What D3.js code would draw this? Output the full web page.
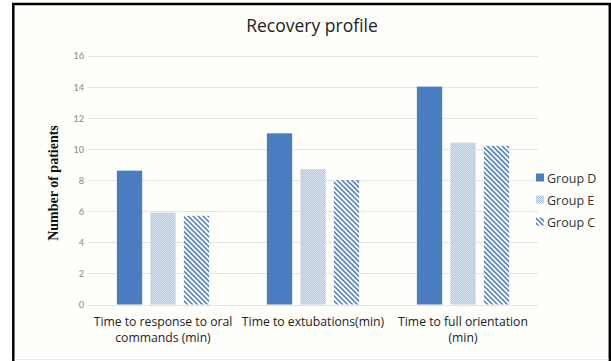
<!DOCTYPE html>
<html>
<head>
<meta charset="utf-8">
<script src="https://cdn.jsdelivr.net/npm/d3@7"></script>
<style>
  body { margin: 0; background: #fff; }
  svg { display: block; }
</style>
</head>
<body>
<div id="chart"></div>
<script>
// chart data
var categories = [["Time to response to oral", "commands (min)"], ["Time to extubations(min)"], ["Time to full orientation", "(min)"]];
var groups = ["Group D", "Group E", "Group C"];
var groupD = [8.6, 11.0, 14.0];
var groupE = [5.9, 8.7, 10.4];
var groupC = [5.7, 8.0, 10.2];
var yTicks = [0, 2, 4, 6, 8, 10, 12, 14, 16];

var seriesValues = [groupD, groupE, groupC];

var width = 611, height = 361;
var margin = { top: 55.5, left: 88, right: 73, bottom: 56.5 };

var svg = d3.select("#chart").append("svg")
    .attr("width", width)
    .attr("height", height);

// patterns for group E (fine check) and group C (diagonal stripes)
var defs = svg.append("defs");
var pE = defs.append("pattern")
    .attr("id", "patE")
    .attr("patternUnits", "userSpaceOnUse")
    .attr("width", 2).attr("height", 2);
pE.append("rect").attr("width", 2).attr("height", 2).attr("fill", "#dfe8f4");
pE.append("rect").attr("width", 1).attr("height", 1).attr("fill", "#a6bfe0");
pE.append("rect").attr("x", 1).attr("y", 1).attr("width", 1).attr("height", 1).attr("fill", "#b1c7e4");

var pC = defs.append("pattern")
    .attr("id", "patC")
    .attr("patternUnits", "userSpaceOnUse")
    .attr("width", 3.5).attr("height", 3.5)
    .attr("patternTransform", "rotate(45)");
pC.append("rect").attr("width", 3.5).attr("height", 3.5).attr("fill", "#ffffff");
pC.append("rect").attr("width", 3.5).attr("height", 1.6).attr("fill", "#4f7fc0");

var fills = ["#4a7dbf", "url(#patE)", "url(#patC)"];

// background + frame
svg.append("rect")
    .attr("x", 13).attr("y", 4)
    .attr("width", 597).attr("height", 356)
    .attr("fill", "#fefefb");
svg.append("path")
    .attr("d", "M13.3,361 V4 H609.8 V361")
    .attr("fill", "none")
    .attr("stroke", "#000")
    .attr("stroke-width", 2.5);
svg.append("line")
    .attr("x1", 14.5).attr("x2", 608.5)
    .attr("y1", 359.5).attr("y2", 359.5)
    .attr("stroke", "#f3eedd")
    .attr("stroke-width", 1);

var x0 = d3.scaleBand()
    .domain(d3.range(categories.length))
    .range([margin.left, width - margin.right])
    .paddingInner(0.385)
    .paddingOuter(0.1925);

var x1 = d3.scaleBand()
    .domain(d3.range(groups.length))
    .range([0, x0.bandwidth()])
    .paddingInner(0.245);

var y = d3.scaleLinear()
    .domain([0, 16])
    .range([height - margin.bottom, margin.top]);

// gridlines
svg.append("g")
    .selectAll("line")
    .data(yTicks)
    .enter().append("line")
    .attr("x1", margin.left)
    .attr("x2", width - margin.right)
    .attr("y1", function(d) { return Math.round(y(d)) + 0.5; })
    .attr("y2", function(d) { return Math.round(y(d)) + 0.5; })
    .attr("stroke", "#e3e3e3")
    .attr("stroke-width", 1);

// y axis labels
var yAxis = svg.append("g")
    .attr("transform", "translate(" + (margin.left - 4) + ",0)")
    .call(d3.axisLeft(y).tickValues(yTicks).tickSize(0).tickPadding(0));
yAxis.select(".domain").remove();
yAxis.selectAll("text")
    .attr("fill", "#8c8c8c")
    .attr("font-family", "Calibri, Carlito, 'Open Sans', sans-serif")
    .attr("font-size", "10.5px");

// bars
var cat = svg.append("g").selectAll("g")
    .data(categories)
    .enter().append("g")
    .attr("transform", function(d, i) { return "translate(" + x0(i) + ",0)"; });

cat.selectAll("rect")
    .data(function(d, i) { return seriesValues.map(function(s, j) { return { g: j, v: s[i] }; }); })
    .enter().append("rect")
    .attr("x", function(d) { return x1(d.g); })
    .attr("y", function(d) { return y(d.v); })
    .attr("width", x1.bandwidth())
    .attr("height", function(d) { return y(0) - y(d.v); })
    .attr("fill", function(d) { return fills[d.g]; });

// x axis category labels
var xl = svg.append("g").selectAll("text")
    .data(categories)
    .enter().append("text")
    .attr("x", function(d, i) { return x0(i) + x0.bandwidth() / 2; })
    .attr("y", 325.5)
    .attr("text-anchor", "middle")
    .attr("fill", "#222")
    .attr("font-family", "'Open Sans', sans-serif")
    .attr("font-size", "12.2px");
xl.selectAll("tspan")
    .data(function(d) { return d; })
    .enter().append("tspan")
    .attr("x", function() { return d3.select(this.parentNode).attr("x"); })
    .attr("dy", function(d, i) { return i === 0 ? 0 : 16.8; })
    .text(function(d) { return d; });

// title
svg.append("text")
    .attr("x", 312)
    .attr("y", 32)
    .attr("text-anchor", "middle")
    .attr("fill", "#222")
    .attr("font-family", "'Open Sans', sans-serif")
    .attr("font-size", "17.5px")
    .text("Recovery profile");

// y axis title
svg.append("text")
    .attr("transform", "translate(58,183) rotate(-90)")
    .attr("text-anchor", "middle")
    .attr("fill", "#111")
    .attr("font-family", "'Liberation Serif', 'Times New Roman', serif")
    .attr("font-weight", "bold")
    .attr("font-size", "14px")
    .text("Number of patients");

// legend
var legend = svg.append("g").selectAll("g")
    .data(groups)
    .enter().append("g")
    .attr("transform", function(d, i) { return "translate(536," + (178 + i * 22) + ")"; });

legend.append("rect")
    .attr("x", 0).attr("y", -4.5)
    .attr("width", 8).attr("height", 8)
    .attr("fill", function(d, i) { return fills[i]; });

legend.append("text")
    .attr("x", 11)
    .attr("y", 4.5)
    .attr("fill", "#333")
    .attr("font-family", "'Open Sans', sans-serif")
    .attr("font-size", "12.5px")
    .text(function(d) { return d; });
</script>
</body>
</html>
